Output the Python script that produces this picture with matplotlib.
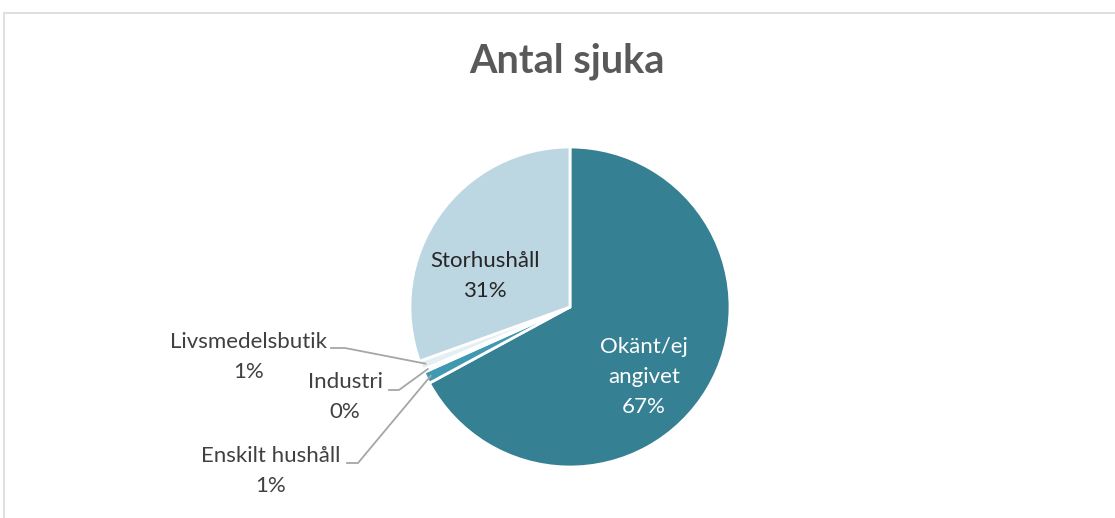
import numpy as np
import matplotlib.pyplot as plt
from matplotlib.patches import Rectangle

plt.rcParams['font.family'] = ['Lato', 'DejaVu Sans']

categories = ["Okänt/ej\nangivet", "Enskilt hushåll", "Industri", "Livsmedelsbutik", "Storhushåll"]
values = [67.1, 1.2, 0.3, 0.9, 30.5]
pct_labels = ["67%", "1%", "0%", "1%", "31%"]
colors = ["#368093", "#4099B0", "#8FC3D3", "#E4EFF3", "#BDD7E2"]

W, H = 1115, 518
cx, cy, R = 570, 307, 160

fig = plt.figure(figsize=(W / 100, H / 100), dpi=100)
fig.patches.append(Rectangle((4 / W, -0.1), 1.2, (H - 13) / H + 0.1, transform=fig.transFigure,
                             fill=False, edgecolor="#D9D9D9", linewidth=1.2))

ax = fig.add_axes([(cx - R) / W, (H - cy - R) / H, 2 * R / W, 2 * R / H])
wedges, _ = ax.pie(values, colors=colors, startangle=90, counterclock=False,
                   wedgeprops=dict(edgecolor="white", linewidth=2), radius=1)
ax.set_xlim(-1, 1)
ax.set_ylim(-1, 1)
ax.axis("off")


def px(x, y):
    return (x - cx) / R, (cy - y) / R


fs = 16
ls = 1.6
# labels inside
ax.text(*px(644, 377), categories[0] + "\n" + pct_labels[0], ha="center", va="center",
        color="white", fontsize=fs, linespacing=ls)
ax.text(*px(485, 276), categories[4] + "\n" + pct_labels[4], ha="center", va="center",
        color="#262626", fontsize=fs, linespacing=ls)

# outside labels with leader lines
outside = {1: ((271, 471), [(347, 463), (358, 463)]),
           2: ((345, 397), [(389, 390), (399, 390)]),
           3: ((249, 357), [(331, 348), (345, 348)])}
for i, (pos, elbow) in outside.items():
    ax.text(*px(*pos), categories[i] + "\n" + pct_labels[i], ha="center", va="center",
            color="#404040", fontsize=fs, linespacing=ls)
    w = wedges[i]
    ang = np.deg2rad((w.theta1 + w.theta2) / 2)
    pts = [px(*p) for p in elbow] + [(0.97 * np.cos(ang), 0.97 * np.sin(ang))]
    xs, ys = zip(*pts)
    ax.plot(xs, ys, color="#A6A6A6", linewidth=1.3, clip_on=False)

fig.text(567 / W, 1 - 61 / H, "Antal sjuka", ha="center", va="center",
         fontsize=28.5, fontweight="bold", color="#595959")

fig.savefig("out.png", dpi=100)
